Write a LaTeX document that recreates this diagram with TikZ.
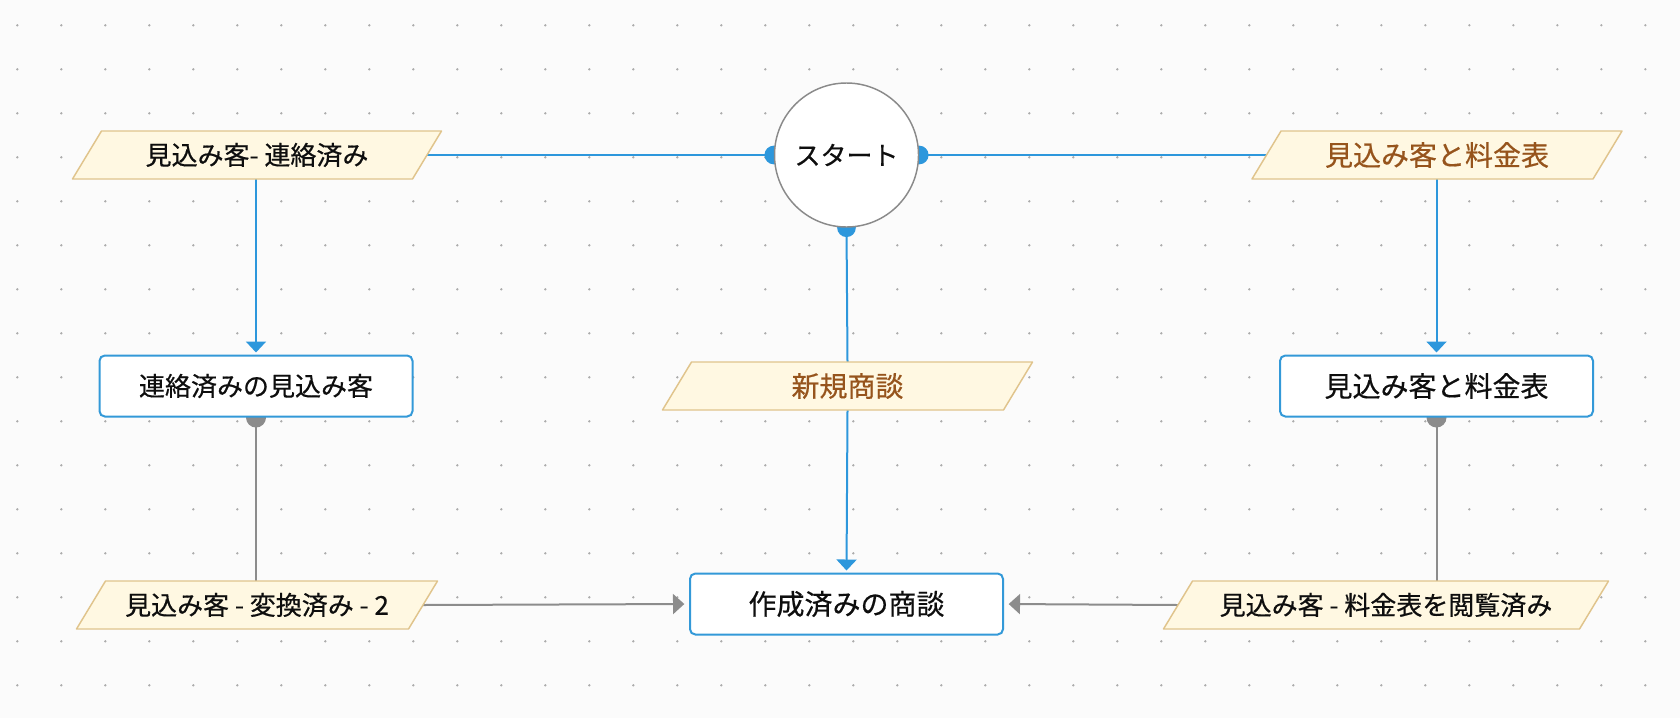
\documentclass[tikz,border=0pt]{standalone}
\usepackage{fontspec}
\setmainfont{Noto Sans CJK JP}
\newfontfamily\jp[FakeBold=0.5]{Noto Sans CJK JP}
\usetikzlibrary{arrows.meta,calc}
\definecolor{bgc}{HTML}{FBFBFB}
\definecolor{dotc}{HTML}{ACACAC}
\definecolor{lblue}{HTML}{2D97DC}
\definecolor{boxblue}{HTML}{3399D8}
\definecolor{lgray}{HTML}{8C8C8C}
\definecolor{cgray}{HTML}{8A8A8A}
\definecolor{parafill}{HTML}{FFF8E2}
\definecolor{paradraw}{HTML}{E0C48C}
\definecolor{brownt}{HTML}{96541C}
\definecolor{txt}{HTML}{0E0E0E}
\newcommand\fsA{\jp\fontsize{19.5pt}{23pt}\selectfont}
\newcommand\fsB{\jp\fontsize{21pt}{25pt}\selectfont}
\pgfdeclarelayer{grid}
\pgfdeclarelayer{edges}
\pgfdeclarelayer{shapes}
\pgfsetlayers{grid,edges,shapes,main}
\newcommand\parashape[1]{%
  \begin{pgfonlayer}{shapes}
    \draw[parab] ([xshift=10.875pt]#1.north west) -- ([xshift=10.875pt]#1.north east)
      -- ([xshift=-10.875pt]#1.south east) -- ([xshift=-10.875pt]#1.south west) -- cycle;
  \end{pgfonlayer}}
\begin{document}
\begin{tikzpicture}[x=0.75pt,y=-0.75pt,
  box/.style={draw=boxblue, line width=1.5pt, rounded corners=4pt, fill=white,
    minimum width=313*0.75pt, minimum height=61*0.75pt, inner sep=0pt, text=txt, font=\fsA},
  paratext/.style={inner sep=0pt, outer sep=0pt, minimum height=48*0.75pt, text=txt, font=\fsA},
  parab/.style={fill=parafill, draw=paradraw, line width=1.1pt, line join=round},
  startc/.style={circle, draw=cgray, line width=1.1pt, fill=white, minimum size=144*0.75pt,
    inner sep=0pt, text=txt, font=\fsA},
  blueline/.style={draw=lblue, line width=1.5pt},
  grayline/.style={draw=lgray, line width=1.5pt},
  bluearrow/.style={blueline, -{Triangle[length=8.25pt,width=15pt]}, shorten >=1.5pt},
  grayarrow/.style={grayline, -{Triangle[length=8.5pt,width=15pt]}, shorten >=3.5pt},
]
\useasboundingbox (0,0) rectangle (1680,718);
\begin{pgfonlayer}{grid}
  \fill[bgc] (0,0) rectangle (1680,718);
  \foreach \i in {0,...,37}{
    \foreach \j in {0,...,15}{
      \fill[dotc] ({17.3+44*\i},{25.3+44*\j}) circle (0.95pt);
    }
  }
\end{pgfonlayer}

% nodes
\node[paratext, minimum width=340*0.75pt] (p1) at (257,155) {見込み客- 連絡済み};
\parashape{p1}
\node[startc] (start) at (846.5,155) {スタート};
\node[paratext, minimum width=341*0.75pt, text=brownt, font=\fsB] (p2) at (1437,155) {見込み客と料金表};
\parashape{p2}
\node[box] (b1) at (256,386) {連絡済みの見込み客};
\node[paratext, minimum width=341*0.75pt, text=brownt, font=\fsB] (p3) at (847.5,386) {新規商談};
\parashape{p3}
\node[box, font=\fsB] (b2) at (1436.5,386) {見込み客と料金表};
\node[box, font=\fsB] (deal) at (846.5,604) {作成済みの商談};
\node[paratext, minimum width=332*0.75pt] (p4) at (257,605) {見込み客 - 変換済み - 2};
\parashape{p4}
\node[paratext, minimum width=416*0.75pt] (p5) at (1386,605) {見込み客 - 料金表を閲覧済み};
\parashape{p5}

% connectors
\begin{pgfonlayer}{edges}
  \draw[blueline] (start.west) -- (p1.east);
  \draw[blueline] (start.east) -- (p2.west);
  \draw[blueline] (start.south) -- (p3.north);
  \draw[bluearrow] (p3.south) -- (deal.north);
  \draw[bluearrow] (p1.south -| b1.north) -- (b1.north);
  \draw[bluearrow] (p2.south -| b2.north) -- (b2.north);
  \draw[grayline] (b1.south) -- (b1.south |- p4.north);
  \draw[grayarrow] (p4.east) -- (deal.west);
  \draw[grayline] (b2.south) -- (b2.south |- p5.north);
  \draw[grayarrow] (p5.west) -- (deal.east);
  \fill[lblue] (start.west) circle (7pt);
  \fill[lblue] (start.east) circle (7pt);
  \fill[lblue] (start.south) circle (7pt);
  \fill[lgray] (b1.south) circle (7.5pt);
  \fill[lgray] (b2.south) circle (7.5pt);
\end{pgfonlayer}
\end{tikzpicture}
\end{document}
